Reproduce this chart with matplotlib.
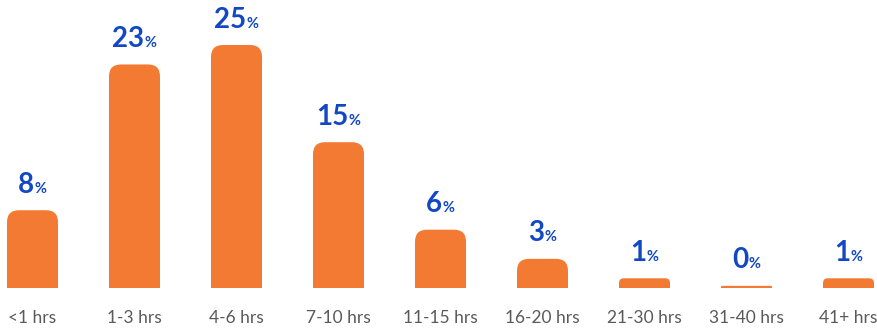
import matplotlib.pyplot as plt
from matplotlib.patches import FancyBboxPatch
from matplotlib.offsetbox import TextArea, HPacker, AnnotationBbox

categories = ['<1 hrs', '1-3 hrs', '4-6 hrs', '7-10 hrs', '11-15 hrs',
              '16-20 hrs', '21-30 hrs', '31-40 hrs', '41+ hrs']
values = [8, 23, 25, 15, 6, 3, 1, 0, 1]

ORANGE = '#F37A32'
BLUE = '#1248C4'
GRAY = '#5A5A5A'

W, H = 877, 329
fig = plt.figure(figsize=(W / 100, H / 100), dpi=100)
ax = fig.add_axes([0, 41 / H, 1, 288 / H])
xlim = (-32.5 / 102, (W - 32.5) / 102)
ylim = (0, 288 / 9.72)
ax.set_xlim(*xlim)
ax.set_ylim(*ylim)

# pixels per data unit, for round corners that look round
px_x = W / (xlim[1] - xlim[0])
px_y = 288 / (ylim[1] - ylim[0])
aspect = px_x / px_y

x = list(range(len(categories)))
bars = ax.bar(x, values, width=0.5)
for b, v in zip(bars, values):
    x0, w, h = b.get_x(), b.get_width(), b.get_height()
    b.remove()
    h_vis = max(h, 0.22)  # zero still shows as a thin line
    r_px = min(12, h_vis * px_y / 2)
    ext = 3  # hide the bottom corners below the axis
    p = FancyBboxPatch((x0, -ext), w, h_vis + ext,
                       boxstyle='round,pad=0,rounding_size=%f' % (r_px / px_x),
                       mutation_aspect=aspect, fc=ORANGE, ec='none', clip_on=True)
    ax.add_patch(p)

    num = TextArea(str(v), textprops=dict(color=BLUE, fontsize=20,
                                          fontweight='bold', family='Lato'))
    pct = TextArea('%', textprops=dict(color=BLUE, fontsize=10.5,
                                       fontweight='bold', family='Lato'))
    box = HPacker(children=[num, pct], align='baseline', pad=0, sep=0.5)
    ab = AnnotationBbox(box, (x0 + w / 2, h_vis), xybox=(0, 9),
                        xycoords='data', boxcoords='offset points',
                        box_alignment=(0.5, 0), frameon=False)
    ax.add_artist(ab)

ax.set_xticks(x)
ax.set_xticklabels(categories, fontsize=12.5, color=GRAY, family='Lato')
ax.tick_params(axis='x', length=0, pad=16)
ax.set_yticks([])
for s in ax.spines.values():
    s.set_visible(False)

fig.savefig('out.png', dpi=100)
